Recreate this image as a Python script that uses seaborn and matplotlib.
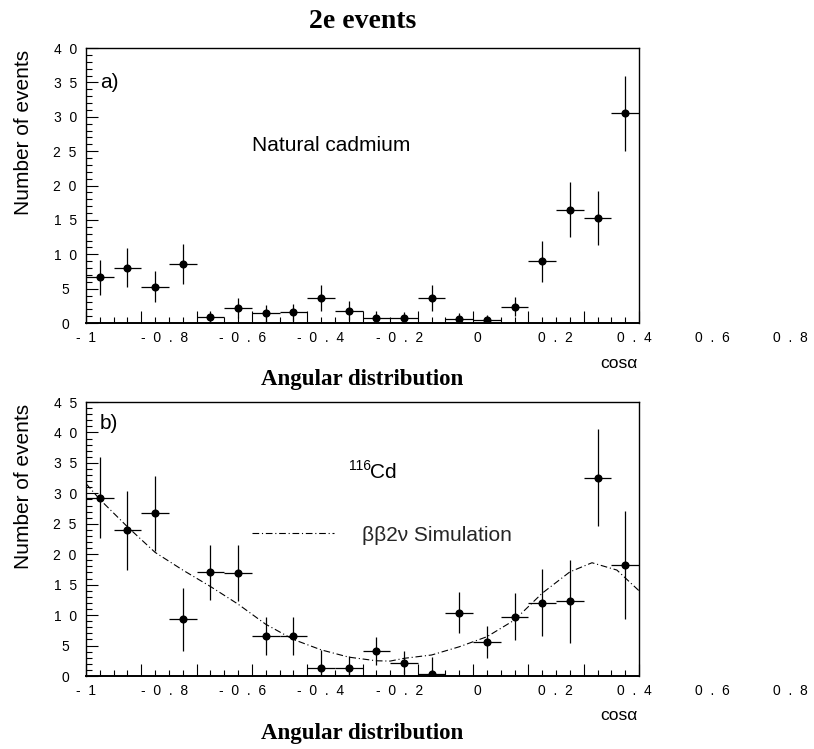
import matplotlib
matplotlib.use("Agg")
import matplotlib.pyplot as plt
import seaborn as sns
from matplotlib.ticker import MultipleLocator, FixedLocator
from matplotlib.lines import Line2D

# ---------------- data ----------------
bin_centers = [-0.95, -0.85, -0.75, -0.65, -0.55, -0.45, -0.35, -0.25, -0.15, -0.05,
               0.05, 0.15, 0.25, 0.35, 0.45, 0.55, 0.65, 0.75, 0.85, 0.95]
bin_half_width = 0.05

top_counts = [6.65, 8.05, 5.3, 8.6, 0.85, 2.2, 1.4, 1.55, 3.7, 1.8,
              0.8, 0.8, 3.7, 0.6, 0.45, 2.4, 9.0, 16.5, 15.3, 30.5]
top_errors = [2.55, 2.8, 2.2, 2.9, 0.9, 1.5, 1.2, 1.25, 1.9, 1.35,
              0.9, 0.85, 1.9, 0.8, 0.7, 1.45, 3.0, 4.05, 3.9, 5.5]

bot_counts = [29.3, 23.9, 26.7, 9.3, 17.0, 16.9, 6.6, 6.6, 1.26, 1.26,
              4.16, 2.2, 0.27, 10.4, 5.6, 9.75, 12.0, 12.25, 32.6, 18.2]
bot_errors = [6.6, 6.5, 6.2, 5.2, 4.5, 4.65, 3.1, 3.15, 3.0, 2.05,
              2.3, 1.95, 2.8, 3.4, 2.65, 3.85, 5.5, 6.8, 8.0, 8.9]

sim_cos = [-1.0, -0.95, -0.85, -0.75, -0.65, -0.55, -0.45, -0.35, -0.25, -0.15,
           -0.05, 0.05, 0.1, 0.15, 0.25, 0.35, 0.45, 0.55, 0.65, 0.75, 0.83, 0.92, 1.0]
sim_counts = [31.6, 29.0, 24.5, 20.3, 17.4, 14.7, 11.8, 8.5, 6.0, 4.3,
              3.1, 2.5, 2.45, 2.9, 3.45, 4.8, 6.45, 9.2, 13.6, 17.1, 18.6, 17.4, 14.0]

xtick_labels = ["-  1", "-  0  .  8", "-  0  .  6", "-  0  .  4", "-  0  .  2",
                "0", "0  .  2", "0  .  4", "0  .  6", "0  .  8"]
top_yticks = [0, 5, 10, 15, 20, 25, 30, 35, 40]
top_ytick_labels = ["0", "5", "1  0", "1  5", "2  0", "2  5", "3  0", "3  5", "4  0"]
bot_yticks = [0, 5, 10, 15, 20, 25, 30, 35, 40, 45]
bot_ytick_labels = ["0", "5", "1  0", "1  5", "2  0", "2  5", "3  0", "3  5", "4  0", "4  5"]

# ---------------- style ----------------
sns.set_theme(style="white")
plt.rcParams["font.family"] = ["Liberation Sans", "DejaVu Sans"]

W, H = 814, 749
fig = plt.figure(figsize=(W / 100, H / 100), dpi=100)
PX = 0.72  # points per pixel

def px_axes(left, top, right, bottom):
    return fig.add_axes([left / W, 1 - bottom / H, (right - left) / W, (bottom - top) / H])

ax_top = px_axes(86, 48, 639, 323)
ax_bot = px_axes(86, 402, 639, 676)

sim_style = (0, (6, 2.5, 1, 2.5))
serif = ["Liberation Serif", "DejaVu Serif"]
label_step = 78.3 / 553.0  # spacing of the (PAW-style) x tick labels, axes fraction


def style_axes(ax, ymax, yticks, ylabels, label_drop):
    ax.set_xlim(-1, 1)
    ax.set_ylim(0, ymax)
    ax.set_xlabel("")
    ax.set_ylabel("")
    ax.xaxis.set_major_locator(MultipleLocator(0.2))
    ax.xaxis.set_minor_locator(MultipleLocator(0.05))
    ax.yaxis.set_major_locator(FixedLocator(yticks))
    ax.yaxis.set_minor_locator(MultipleLocator(1))
    ax.set_yticklabels(ylabels)
    ax.tick_params(which="both", direction="in", bottom=True, left=True,
                   top=False, right=False, labelbottom=False, color="black")
    ax.tick_params(which="major", length=8.6, width=0.8)
    ax.tick_params(which="minor", length=4.3, width=0.8)
    ax.tick_params(axis="y", pad=15, labelsize=10, labelcolor="black")
    for lbl in ax.get_yticklabels():
        lbl.set_horizontalalignment("center")
    for sp in ax.spines.values():
        sp.set_visible(True)
        sp.set_color("black")
        sp.set_linewidth(1.0)
    ax.spines["bottom"].set_linewidth(1.4)
    ax.set_facecolor("white")
    # x tick labels (spread as in the original PAW output)
    for i, lab in enumerate(xtick_labels):
        ax.annotate(lab, xy=(i * label_step, 0), xycoords="axes fraction",
                    xytext=(0, -15 * PX), textcoords="offset points",
                    ha="center", va="center", fontsize=10, color="black",
                    annotation_clip=False)
    ax.annotate("cos\u03b1", xy=(1, 0), xycoords="axes fraction",
                xytext=(-1, -40 * PX), textcoords="offset points",
                ha="right", va="center", fontsize=12.5, color="black",
                annotation_clip=False)
    ax.annotate("Angular distribution", xy=(0.5, 0), xycoords="axes fraction",
                xytext=(0, -label_drop * PX), textcoords="offset points",
                ha="center", va="center", fontsize=16.5, fontweight="bold",
                family=serif, color="black", annotation_clip=False)
    ax.annotate("Number of events", xy=(0, 1), xycoords="axes fraction",
                xytext=(-62 * PX, -2 * PX), textcoords="offset points",
                rotation=90, ha="center", va="top", fontsize=15, color="black",
                annotation_clip=False)


def draw_data(ax, counts, errors):
    ax.errorbar(bin_centers, counts, yerr=errors, xerr=bin_half_width, fmt="none",
                ecolor="black", elinewidth=0.9, capsize=0, zorder=3)
    sns.scatterplot(x=bin_centers, y=counts, ax=ax, color="black", s=34,
                    edgecolor="black", linewidth=0, zorder=4, legend=False)


# ---- panel a ----
draw_data(ax_top, top_counts, top_errors)
style_axes(ax_top, 40, top_yticks, top_ytick_labels, 56)
ax_top.text(0.025, 0.876, "a)", transform=ax_top.transAxes, ha="left", va="center",
            fontsize=15, color="black")
ax_top.text(0.300, 0.647, "Natural cadmium", transform=ax_top.transAxes,
            ha="left", va="center", fontsize=15, color="black")

# ---- panel b ----
sns.lineplot(x=sim_cos, y=sim_counts, ax=ax_bot, color="black", linewidth=0.8,
             linestyle=sim_style, zorder=2)
draw_data(ax_bot, bot_counts, bot_errors)
style_axes(ax_bot, 45, bot_yticks, bot_ytick_labels, 57)
ax_bot.text(0.025, 0.920, "b)", transform=ax_bot.transAxes, ha="left", va="center",
            fontsize=15, color="black")
ax_bot.text(0.4756, 0.766, "116", transform=ax_bot.transAxes, ha="left", va="center",
            fontsize=10, color="black")
ax_bot.text(0.5136, 0.741, "Cd", transform=ax_bot.transAxes, ha="left", va="center",
            fontsize=15, color="black")
handle = Line2D([], [], color="black", linewidth=0.8, linestyle=sim_style)
ax_bot.legend(handles=[handle], labels=["\u03b2\u03b22\u03bd Simulation"],
              loc="center left", bbox_to_anchor=(0.300, 0.514), frameon=False,
              fontsize=15, handlelength=3.94, handletextpad=1.35,
              borderpad=0, borderaxespad=0)

fig.text(362.5 / W, 1 - 21 / H, "2e events", ha="center", va="center",
         fontsize=20, fontweight="bold", family=serif, color="black")

fig.savefig("out.png", dpi=100, facecolor="white")
